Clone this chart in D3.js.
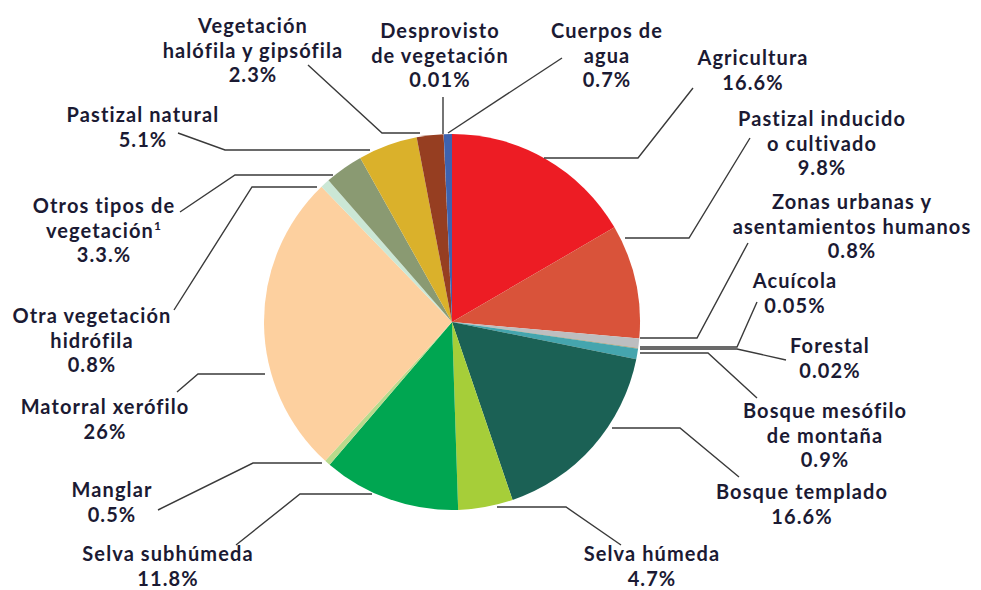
<!DOCTYPE html>
<html>
<head>
<meta charset="utf-8">
<script src="https://cdn.jsdelivr.net/npm/d3@7"></script>
<style>
  html, body { margin: 0; padding: 0; background: #fff; }
  svg { display: block; }
  text { font-family: Lato, "Open Sans", sans-serif; font-weight: 700; fill: #1b1a33; letter-spacing: 1.1px; }
</style>
</head>
<body>
<svg id="chart" width="981" height="590"></svg>
<script>
// ---- data (clockwise from 12 o'clock) ----
const categories = [
  "Agricultura", "Pastizal inducido o cultivado", "Zonas urbanas y asentamientos humanos",
  "Acuícola", "Forestal", "Bosque mesófilo de montaña", "Bosque templado",
  "Selva húmeda", "Selva subhúmeda", "Manglar", "Matorral xerófilo",
  "Otra vegetación hidrófila", "Otros tipos de vegetación", "Pastizal natural",
  "Vegetación halófila y gipsófila", "Desprovisto de vegetación", "Cuerpos de agua"
];
const values = [16.6, 9.8, 0.8, 0.05, 0.02, 0.9, 16.6, 4.7, 11.8, 0.5, 26, 0.8, 3.3, 5.1, 2.3, 0.01, 0.7];
const valueLabels = ["16.6%", "9.8%", "0.8%", "0.05%", "0.02%", "0.9%", "16.6%", "4.7%", "11.8%", "0.5%", "26%", "0.8%", "3.3.%", "5.1%", "2.3%", "0.01%", "0.7%"];
const labelLines = [
  ["Agricultura"], ["Pastizal inducido", "o cultivado"], ["Zonas urbanas y", "asentamientos humanos"],
  ["Acuícola"], ["Forestal"], ["Bosque mesófilo", "de montaña"], ["Bosque templado"],
  ["Selva húmeda"], ["Selva subhúmeda"], ["Manglar"], ["Matorral xerófilo"],
  ["Otra vegetación", "hidrófila"], ["Otros tipos de", "vegetación¹"], ["Pastizal natural"],
  ["Vegetación", "halófila y gipsófila"], ["Desprovisto", "de vegetación"], ["Cuerpos de", "agua"]
];
const colors = [
  "#ed1c24", "#d9533a", "#bdbec0", "#b08a5a", "#6b7f3f", "#45a5ae", "#1b6155",
  "#a6ce39", "#00a651", "#b9da8c", "#fdd09f", "#cbe7d5", "#8a9a72", "#dab12b",
  "#963e21", "#d8d8d8", "#3e62ae"
];

// ---- layout (annotation placement) ----
const cx = 452, cy = 322, R = 188;
// label anchor: [centerX, firstBaselineY]
const labelPos = [
  [753, 65], [822, 126], [852, 209], [795, 288], [830, 353], [825, 418], [802, 499],
  [652, 561], [168, 561], [112, 497], [105, 414], [92, 323], [104, 213], [143, 122],
  [253, 33], [440, 38], [607, 38]
];
// leader polylines
const leaders = [
  [[544,158],[638,158],[693,88]],
  [[625,238],[689,238],[750,138]],
  [[640,338],[697,338],[748,243]],
  [[640,347],[737,347],[757,302]],
  [[640,349],[737,349],[786,360]],
  [[640,353],[708,353],[757,398]],
  [[612,428],[680,428],[739,477]],
  [[497,507],[566,507],[621,545]],
  [[372,494],[300,494],[236,545]],
  [[322,463],[253,463],[158,510]],
  [[265,374],[198,374],[177,392]],
  [[317,187],[252,187],[174,310]],
  [[333,175],[235,175],[180,212]],
  [[370,150],[225,150],[178,133]],
  [[420,133],[382,133],[308,65]],
  [[443,134],[443,97]],
  [[448,133],[562,58]]
];
const lineH = 24.6;

const svg = d3.select("#chart");

const pie = d3.pie().sort(null).value(d => d)(values);
const arc = d3.arc().innerRadius(0).outerRadius(R);

svg.append("g").attr("transform", `translate(${cx},${cy})`)
  .selectAll("path").data(pie).join("path")
  .attr("d", arc)
  .attr("fill", (d, i) => colors[i]);

// leader lines
const line = d3.line();
svg.append("g").selectAll("path").data(leaders).join("path")
  .attr("d", d => line(d))
  .attr("fill", "none")
  .attr("stroke", "#3a3a3a")
  .attr("stroke-width", 1.4);

// labels
const lg = svg.append("g").style("font-size", "20px");
categories.forEach((c, i) => {
  const [x, y] = labelPos[i];
  const lines = labelLines[i].concat([valueLabels[i]]);
  const t = lg.append("text").attr("text-anchor", "middle");
  lines.forEach((s, j) => {
    const ts = t.append("tspan").attr("x", x).attr("y", y + j * lineH);
    if (s.endsWith("¹")) {
      ts.text(s.slice(0, -1));
      ts.append("tspan").attr("font-size", "12px").attr("dy", "-8").text("1");
    } else {
      ts.text(s);
    }
  });
});
</script>
</body>
</html>
